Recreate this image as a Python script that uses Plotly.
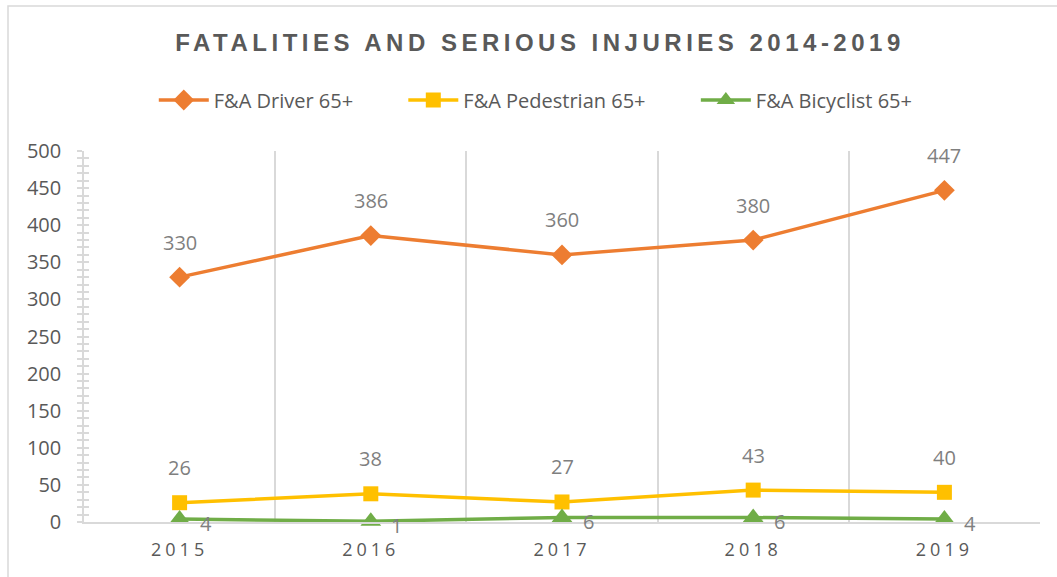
import plotly.graph_objects as go

years = ["2015", "2016", "2017", "2018", "2019"]
driver = [330, 386, 360, 380, 447]
pedestrian = [26, 38, 27, 43, 40]
bicyclist = [4, 1, 6, 6, 4]

names = ["F&A Driver 65+", "F&A Pedestrian 65+", "F&A Bicyclist 65+"]
colors = ["#ED7D31", "#FFC000", "#70AD47"]
symbols = ["diamond", "square", "triangle-up"]
sizes = [16, 15, 18]
legend_ids = ["legend", "legend2", "legend3"]
legend_x = [0.073, 0.334, 0.640]

TXT = "#595959"
LBL = "#7F7F7F"
GRID = "#D9D9D9"
FONT = "Open Sans"

L, R, T, B = 84, 1040, 151, 522
W, H = 1057, 577
PW, PH = R - L, B - T

fig = go.Figure()
for vals, nm, c, s, sz, lg in zip([driver, pedestrian, bicyclist], names, colors, symbols, sizes, legend_ids):
    fig.add_trace(go.Scatter(
        x=years, y=vals, name=nm, mode="lines+markers", legend=lg,
        line=dict(color=c, width=3.5),
        marker=dict(symbol=s, size=sz, color=c, line=dict(width=0)),
        cliponaxis=False,
    ))

# invisible trace for the overlay axis (inside half of the cross ticks)
fig.add_trace(go.Scatter(x=years, y=driver, yaxis="y2", mode="lines",
                         line=dict(width=0), showlegend=False, hoverinfo="skip", opacity=0))

annotations = []
for vals in (driver, pedestrian):
    for i, v in enumerate(vals):
        annotations.append(dict(x=i, y=v, xref="x", yref="y", text=str(v), showarrow=False,
                                yshift=35, font=dict(family=FONT, size=20, color=LBL)))
for i, v in enumerate(bicyclist):
    annotations.append(dict(x=i, y=v, xref="x", yref="y", text=str(v), showarrow=False,
                            xshift=26, yshift=-4, font=dict(family=FONT, size=20, color=LBL)))

legend_common = dict(orientation="h", yanchor="middle", y=1 + (T - 100) / PH, xanchor="left",
                     font=dict(family=FONT, size=20, color=TXT), bgcolor="rgba(0,0,0,0)",
                     itemwidth=50)

spaced = lambda t, px: f'<span style="letter-spacing:{px}px">{t}</span>'

fig.update_layout(
    width=W, height=H,
    margin=dict(l=L, r=W - R, t=T, b=H - B),
    paper_bgcolor="white", plot_bgcolor="white",
    title=dict(text=spaced("FATALITIES AND SERIOUS INJURIES 2014-2019", 4.5),
               x=540 / W, xanchor="center", y=1 - 43 / H, yanchor="middle",
               font=dict(family="Liberation Sans", size=24, color=TXT, weight="bold")),
    legend=dict(legend_common, x=legend_x[0]),
    legend2=dict(legend_common, x=legend_x[1]),
    legend3=dict(legend_common, x=legend_x[2]),
    xaxis=dict(type="category", range=[-0.5, 4.5], tickson="boundaries",
               tickvals=years, ticktext=[spaced(y, 4) for y in years],
               showgrid=True, gridcolor=GRID, gridwidth=1.5,
               showline=True, linecolor=GRID, linewidth=1.5,
               ticks="", ticklabelstandoff=11,
               tickfont=dict(family=FONT, size=18, color=TXT)),
    yaxis=dict(range=[0, 500], dtick=50, showgrid=False, zeroline=False,
               showline=True, linecolor=GRID, linewidth=1.5,
               ticks="outside", ticklen=5, tickcolor=GRID, tickwidth=1.5,
               minor=dict(dtick=10, ticks="outside", ticklen=5, tickcolor=GRID, tickwidth=1.5),
               ticklabelstandoff=12,
               tickfont=dict(family=FONT, size=20, color=TXT)),
    yaxis2=dict(range=[0, 500], dtick=50, overlaying="y", side="left", anchor="x",
                showgrid=False, zeroline=False, showticklabels=False, showline=False,
                ticks="inside", ticklen=5, tickcolor=GRID, tickwidth=1.5,
                minor=dict(dtick=10, ticks="inside", ticklen=5, tickcolor=GRID, tickwidth=1.5)),
    annotations=annotations,
    shapes=[dict(type="rect", xref="paper", yref="paper",
                 x0=(8 - L) / PW, x1=1.2, y0=-0.3, y1=(B - 6) / PH,
                 line=dict(color=GRID, width=1.5), layer="below")],
)

fig.write_html("out.html", config={"displayModeBar": False},
               post_script="document.body.style.margin='0';")
